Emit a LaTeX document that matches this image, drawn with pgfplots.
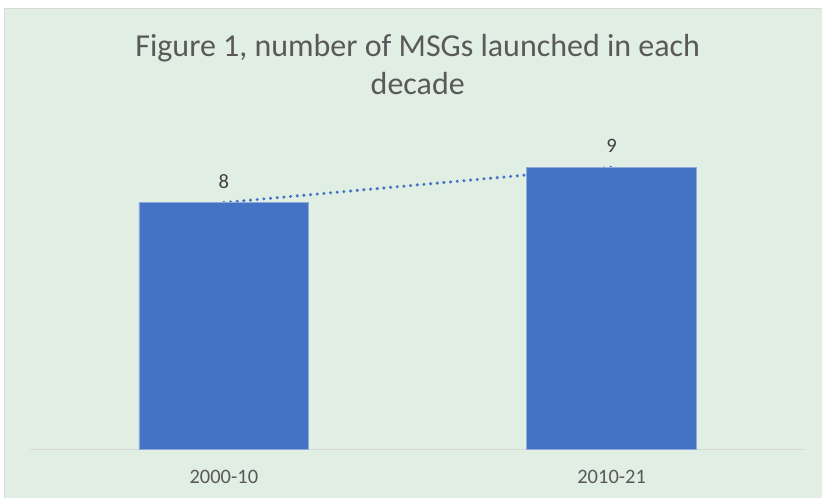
\documentclass[border=0pt]{standalone}
\usepackage{pgfplots}
\pgfplotsset{compat=1.18}
\usepackage{fontspec}
\setmainfont{Carlito}

\definecolor{chartbg}{HTML}{E0EEE4}
\definecolor{barblue}{HTML}{4472C4}
\definecolor{baredge}{HTML}{8FAADC}
\definecolor{txtgrey}{HTML}{595959}
\definecolor{lblgrey}{HTML}{404040}
\definecolor{rulegrey}{HTML}{D9D9D9}

\begin{document}
\begin{tikzpicture}[x=1pt,y=1pt]
  % frame and background
  \fill[white] (0,0) rectangle (822,498);
  \fill[chartbg] (5,0) rectangle (822,489);
  \draw[rulegrey, line width=1pt] (4.5,0) -- (4.5,489.5) -- (822,489.5);
  % title
  \node[anchor=base, text=txtgrey, inner sep=0pt, font=\fontsize{32}{38}\selectfont]
    at (418,441.3) {Figure 1, number of MSGs launched in each};
  \node[anchor=base, text=txtgrey, inner sep=0pt, font=\fontsize{32}{38}\selectfont]
    at (418,403) {decade};
  \begin{axis}[
    at={(30pt,48pt)}, anchor=south west,
    scale only axis, width=776pt, height=318pt,
    xmin=-0.5, xmax=1.5,
    ymin=1, ymax=10,
    axis y line=none,
    axis x line*=bottom,
    x axis line style={rulegrey, line width=1pt},
    xtick={0,1},
    xticklabels={2000-10,2010-21},
    ytick=\empty,
    major tick length=0pt,
    xticklabel style={font=\fontsize{20.5}{24}\selectfont, text=txtgrey,
      anchor=north, inner sep=0pt, yshift=-20pt},
    /pgf/number format/assume math mode=true,
  ]
    % linear trend line (behind the bars)
    \addplot[barblue, line width=3.4pt, line cap=round, dash pattern=on 0pt off 6.7pt]
      coordinates {(0,8) (1,9)};
    \addplot[ybar, bar width=0.438, fill=barblue, draw=baredge, line width=0.75pt,
      nodes near coords,
      nodes near coords style={font=\fontsize{20.5}{24}\selectfont, text=lblgrey,
        anchor=south, inner sep=0pt, yshift=14pt}]
      coordinates {(0,8) (1,9)};
  \end{axis}
\end{tikzpicture}
\end{document}
